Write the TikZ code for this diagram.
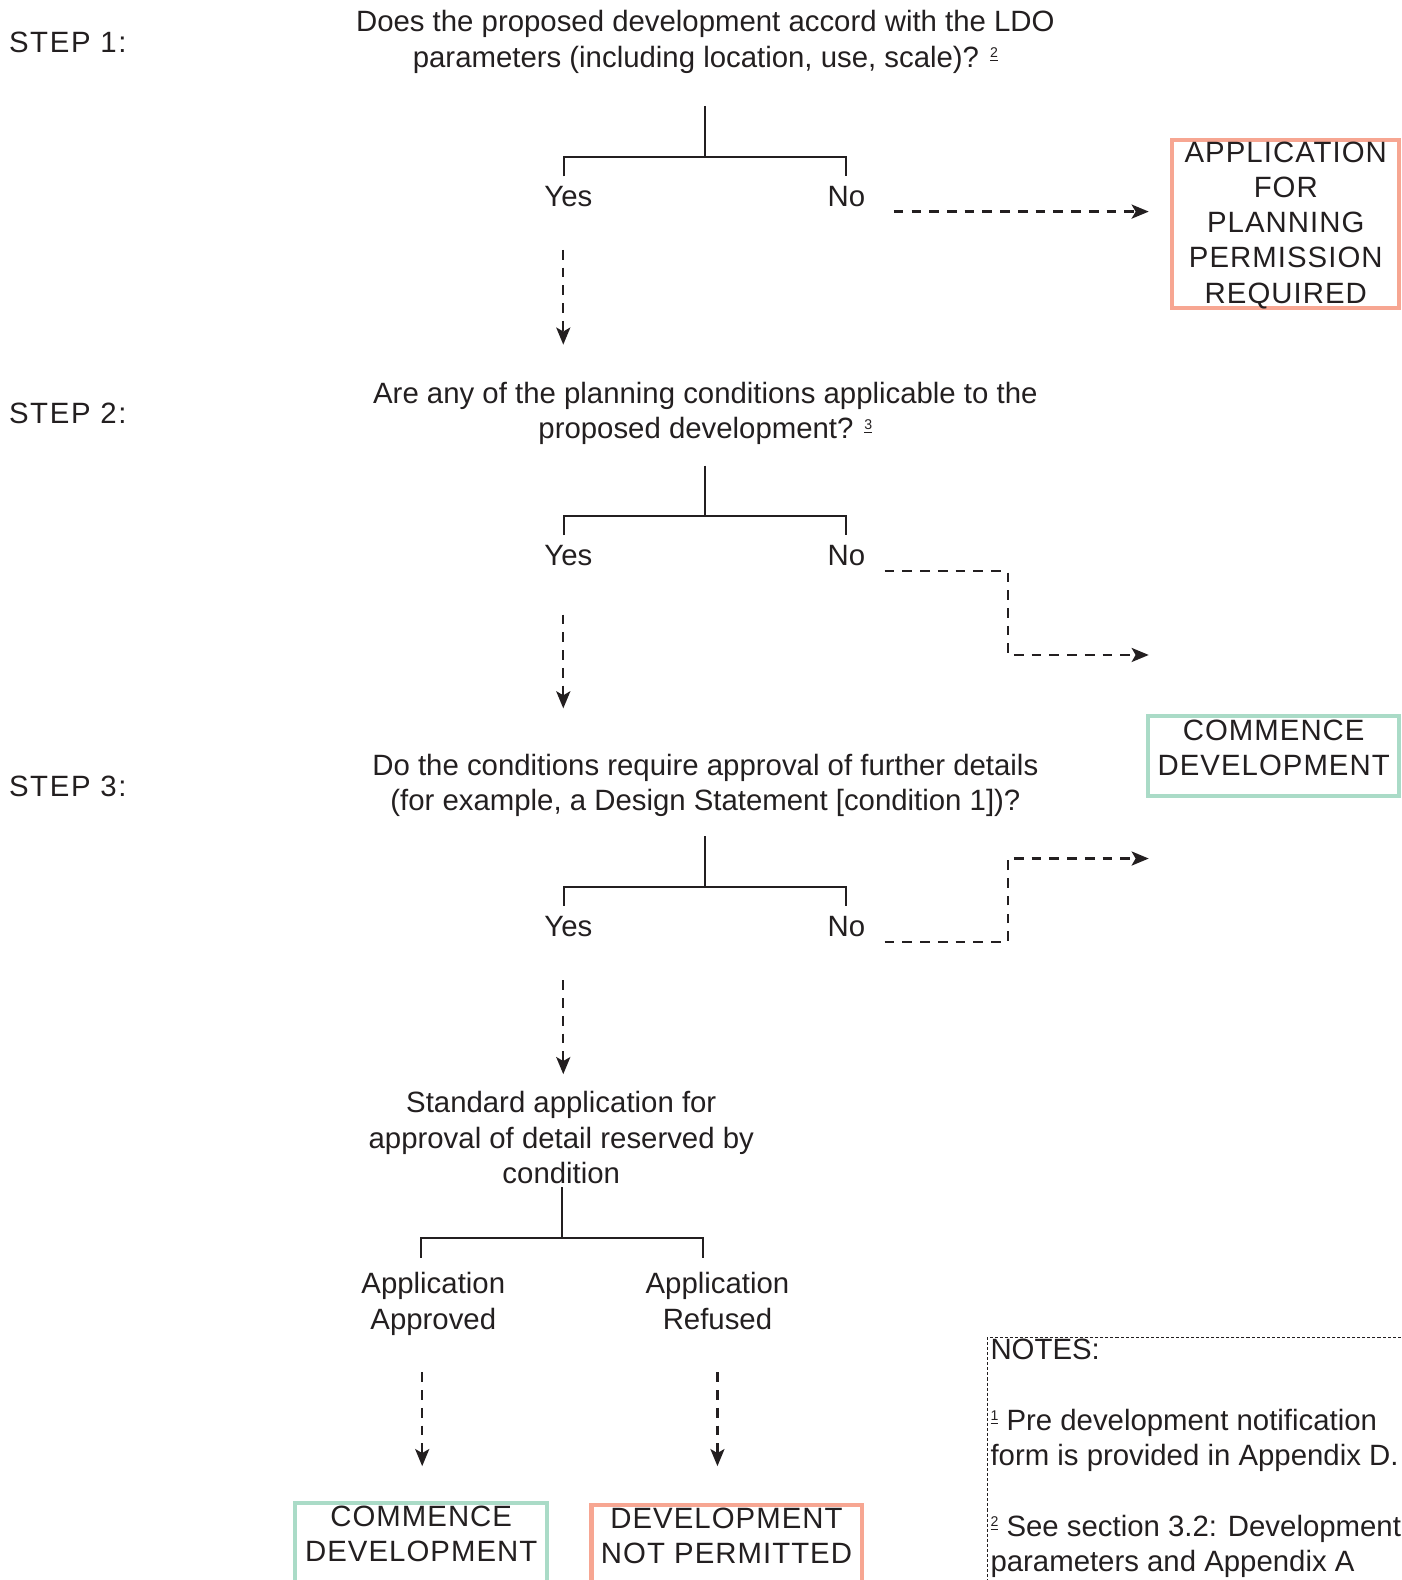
\documentclass[tikz,border=0pt]{standalone}
\usepackage{fontspec}
\setmainfont{Liberation Sans}
\newfontfamily\boxfont[LetterSpace=3.5]{Liberation Sans}
\newfontfamily\stepfont[LetterSpace=5.5]{Liberation Sans}
\usetikzlibrary{arrows.meta}

\definecolor{inkgray}{RGB}{35,31,32}
\definecolor{salmonline}{RGB}{247,166,146}
\definecolor{mintline}{RGB}{170,219,199}

\newcommand{\fnmark}[1]{\raisebox{0.6ex}{\fontsize{7}{7}\selectfont\underline{#1}}}

\tikzset{every picture/.style={line width=1pt}}
\tikzset{
  plaintext/.style={inner sep=0pt, align=center, text=inkgray, font=\fontsize{14.57}{17.5}\selectfont},
  boxtext/.style={plaintext, font=\boxfont\fontsize{14.57}{17.5}\selectfont},
  steptext/.style={plaintext, anchor=west, font=\stepfont\fontsize{14.57}{17.5}\selectfont},
  treeline/.style={draw=inkgray, line width=1pt},
  flowarrow/.style={draw=inkgray, line width=1.1pt, dash pattern=on 4.8pt off 4pt, -{Stealth[length=8.5pt,width=7pt,inset=2pt]}},
  stopbox/.style={draw=salmonline, line width=2pt},
  gobox/.style={draw=mintline, line width=2pt},
  notebox/.style={draw=inkgray, line width=0.4pt, dash pattern=on 1.5pt off 1pt}
}

\begin{document}
\begin{tikzpicture}[x=0.5pt,y=0.5pt,yscale=-1,xscale=1]
\useasboundingbox (0,0) rectangle (1391,1568);
\clip (0,0) rectangle (1391,1568);
% Step labels
\node [steptext] (step1) at (8,42) {STEP 1:};
\node [steptext] (step2) at (8,410) {STEP 2:};
\node [steptext] (step3) at (8,780) {STEP 3:};
% Questions
\node [plaintext] (q1) at (700,41.5) {Does the proposed development accord with the LDO\\parameters (including location, use, scale)? \fnmark{2}};
\node [plaintext] (q2) at (700,410) {Are any of the planning conditions applicable to the\\proposed development? \fnmark{3}};
\node [plaintext] (q3) at (700,779.5) {Do the conditions require approval of further details\\(for example, a Design Statement [condition 1])?};
\node [plaintext] (std) at (557,1129) {Standard application for\\approval of detail reserved by\\condition};
% Answers
\node [plaintext] (yes1) at (564,195) {Yes};
\node [plaintext] (no1) at (840,195) {No};
\node [plaintext] (yes2) at (564,551) {Yes};
\node [plaintext] (no2) at (840,551) {No};
\node [plaintext] (yes3) at (564,919) {Yes};
\node [plaintext] (no3) at (840,919) {No};
\node [plaintext] (approved) at (430,1294) {Application\\Approved};
\node [plaintext] (refused) at (712,1291) {Application\\Refused};
% Tree branches
\coordinate (top1) at (700,105);  \coordinate (yes1t) at (560,175); \coordinate (no1t) at (840,175);
\coordinate (top2) at (700,462);  \coordinate (yes2t) at (560,531); \coordinate (no2t) at (840,531);
\coordinate (top3) at (700,830);  \coordinate (yes3t) at (560,899); \coordinate (no3t) at (840,899);
\coordinate (top4) at (558,1178); \coordinate (apprt) at (418,1248); \coordinate (refut) at (698,1248);
\foreach \t/\l/\r in {top1/yes1t/no1t, top2/yes2t/no2t, top3/yes3t/no3t, top4/apprt/refut} {
  \draw [treeline] (\t) -- ++(0,51);
  \draw [treeline] (\l) -- ++(0,-19) -| (\r);
}
% Outcome boxes
\draw [stopbox] (1163,139) rectangle (1388,306);
\node [boxtext] (permission) at (1276,223.5) {APPLICATION\\FOR\\PLANNING\\PERMISSION\\REQUIRED};
\draw [gobox] (1139,711) rectangle (1388,790);
\node [boxtext] (commence1) at (1264,742) {COMMENCE\\DEVELOPMENT};
\draw [gobox] (293,1492) rectangle (543,1610);
\node [boxtext] (commence2) at (418,1522) {COMMENCE\\DEVELOPMENT};
\draw [stopbox] (587,1494) rectangle (855,1610);
\node [boxtext] (notpermitted) at (721,1524) {DEVELOPMENT\\NOT PERMITTED};
% Dashed arrows
\coordinate (a1s) at (559,248);  \coordinate (a1e) at (559,342);
\coordinate (a2s) at (559,610);  \coordinate (a2e) at (559,703);
\coordinate (a3s) at (559,973);  \coordinate (a3e) at (559,1066);
\coordinate (a4s) at (419,1362); \coordinate (a4e) at (419,1455);
\coordinate (a5s) at (712,1362); \coordinate (a5e) at (712,1455);
\foreach \s/\e in {a1s/a1e, a2s/a2e, a3s/a3e, a4s/a4e, a5s/a5e}
  \draw [flowarrow] (\s) -- (\e);
\coordinate (b1s) at (887,210);  \coordinate (b1e) at (1140,210);
\coordinate (b2s) at (878,567);  \coordinate (b2e) at (1140,650);
\coordinate (b3s) at (878,935);  \coordinate (b3e) at (1140,852);
\draw [flowarrow] (b1s) -- (b1e);
\draw [flowarrow] (b2s) -| (1000,650) -- (b2e);
\draw [flowarrow] (b3s) -| (1000,852) -- (b3e);
% Notes
\draw [notebox] (1420,1327) -- (980,1327) -- (980,1610);
\node [plaintext, anchor=north west, align=left] (notes) at (982,1328) {NOTES:\\[17.5pt]\fnmark{1} Pre development notification\\form is provided in Appendix D.\\[17.5pt]\fnmark{2} See section 3.2: Development\\parameters and Appendix A};
\end{tikzpicture}
\end{document}
